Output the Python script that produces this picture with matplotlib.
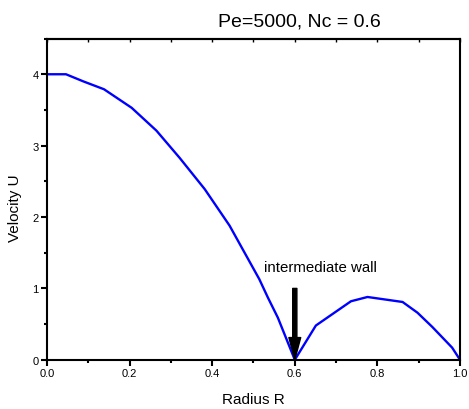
import matplotlib
matplotlib.use("Agg")
import matplotlib.pyplot as plt
from matplotlib.ticker import MultipleLocator, FormatStrFormatter

plt.rcParams['font.family'] = ['Liberation Sans', 'DejaVu Sans']

radius = [0.0, 0.046, 0.088, 0.138, 0.205, 0.265, 0.321, 0.382, 0.442, 0.514,
          0.535, 0.559, 0.6, 0.651, 0.736, 0.776, 0.861, 0.897, 0.933, 0.981, 1.0]
velocity = [4.0, 4.0, 3.90, 3.79, 3.53, 3.21, 2.83, 2.39, 1.88, 1.13,
            0.87, 0.59, 0.0, 0.48, 0.82, 0.88, 0.81, 0.66, 0.46, 0.17, 0.0]

title = "Pe=5000, Nc = 0.6"
annot_text = "intermediate wall"
wall_r = 0.6

fig = plt.figure(figsize=(4.69, 4.10), dpi=100)
ax = fig.add_axes([0.1002, 0.120, 0.8806, 0.7835])

ax.plot(radius, velocity, color='#0000ff', lw=1.7)

ax.set_xlim(0, 1.0)
ax.set_ylim(0, 4.5)
ax.xaxis.set_major_locator(MultipleLocator(0.2))
ax.xaxis.set_minor_locator(MultipleLocator(0.1))
ax.yaxis.set_major_locator(MultipleLocator(1))
ax.yaxis.set_minor_locator(MultipleLocator(0.5))
ax.xaxis.set_major_formatter(FormatStrFormatter('%.1f'))
ax.yaxis.set_major_formatter(FormatStrFormatter('%d'))

for s in ax.spines.values():
    s.set_linewidth(1.5)

ax.tick_params(axis='both', which='major', direction='out', length=4, width=1.5,
               labelsize=8, pad=2)
ax.tick_params(axis='both', which='minor', direction='out', length=2.5, width=1.5)

# top mirrored small inward ticks
sec = ax.secondary_xaxis('top')
sec.xaxis.set_major_locator(MultipleLocator(0.1))
sec.tick_params(direction='in', length=2.5, width=1.0, labeltop=False)
sec.spines['top'].set_linewidth(1.5)

ax.set_xlabel("Radius R", fontsize=11, labelpad=10)
ax.set_ylabel("Velocity U", fontsize=11)
ax.yaxis.set_label_coords(-0.060, 0.475)

fig.text(0.638, 0.935, title, fontsize=14, ha='center', va='baseline')

ax.annotate('', xy=(wall_r, 0.0), xytext=(wall_r, 1.0),
            arrowprops=dict(facecolor='black', edgecolor='black', width=3,
                            headwidth=8.5, headlength=16, shrink=0))
ax.text(0.663, 1.30, annot_text, fontsize=10.8, ha='center', va='center')

fig.savefig("out.png", dpi=100)
